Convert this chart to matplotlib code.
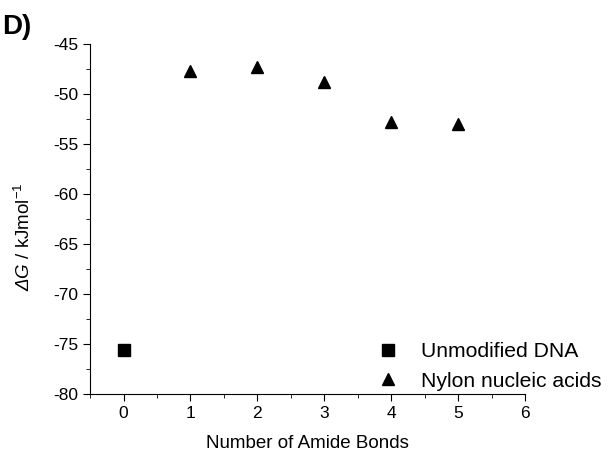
import matplotlib
matplotlib.use('Agg')
import matplotlib.pyplot as plt
from matplotlib.ticker import MultipleLocator

plt.rcParams['font.family'] = ['Liberation Sans', 'DejaVu Sans']
plt.rcParams['axes.unicode_minus'] = False
plt.rcParams['mathtext.fontset'] = 'custom'
plt.rcParams['mathtext.rm'] = 'Liberation Sans'
plt.rcParams['mathtext.sf'] = 'Liberation Sans:italic'  # italic Delta G

# data
dna_x = [0]
dna_dg = [-75.6]
nylon_x = [1, 2, 3, 4, 5]
nylon_dg = [-47.7, -47.3, -48.8, -52.8, -53.0]

fig = plt.figure(figsize=(6.09, 4.59), dpi=100)
ax = fig.add_axes([0.148, 0.142, 0.714, 0.762])

ax.plot(dna_x, dna_dg, 's', color='k', markersize=8, label='Unmodified DNA')
ax.plot(nylon_x, nylon_dg, '^', color='k', markersize=9, label='Nylon nucleic acids')

ax.set_xlim(-0.5, 6)
ax.set_ylim(-80, -45)
ax.xaxis.set_major_locator(MultipleLocator(1))
ax.xaxis.set_minor_locator(MultipleLocator(0.5))
ax.yaxis.set_major_locator(MultipleLocator(5))
ax.yaxis.set_minor_locator(MultipleLocator(2.5))
ax.tick_params(which='major', direction='out', length=5, labelsize=12.5)
ax.tick_params(which='minor', direction='out', length=3)
ax.spines['top'].set_visible(False)
ax.spines['right'].set_visible(False)

ax.set_xlabel('Number of Amide Bonds', fontsize=13.5, labelpad=10)
ax.set_ylabel('$\\mathsf{ΔG}$ / kJmol$^{\\mathrm{-1}}$', fontsize=13.5)
ax.yaxis.set_label_coords(-0.13, 0.45)

ax.legend(loc='lower right', bbox_to_anchor=(1.22, -0.045), frameon=False,
          fontsize=15.2, handletextpad=0.55, labelspacing=0.5)

fig.text(0.003, 0.925, 'D)', fontsize=20, fontweight='bold')

fig.savefig('out.png', dpi=100)
